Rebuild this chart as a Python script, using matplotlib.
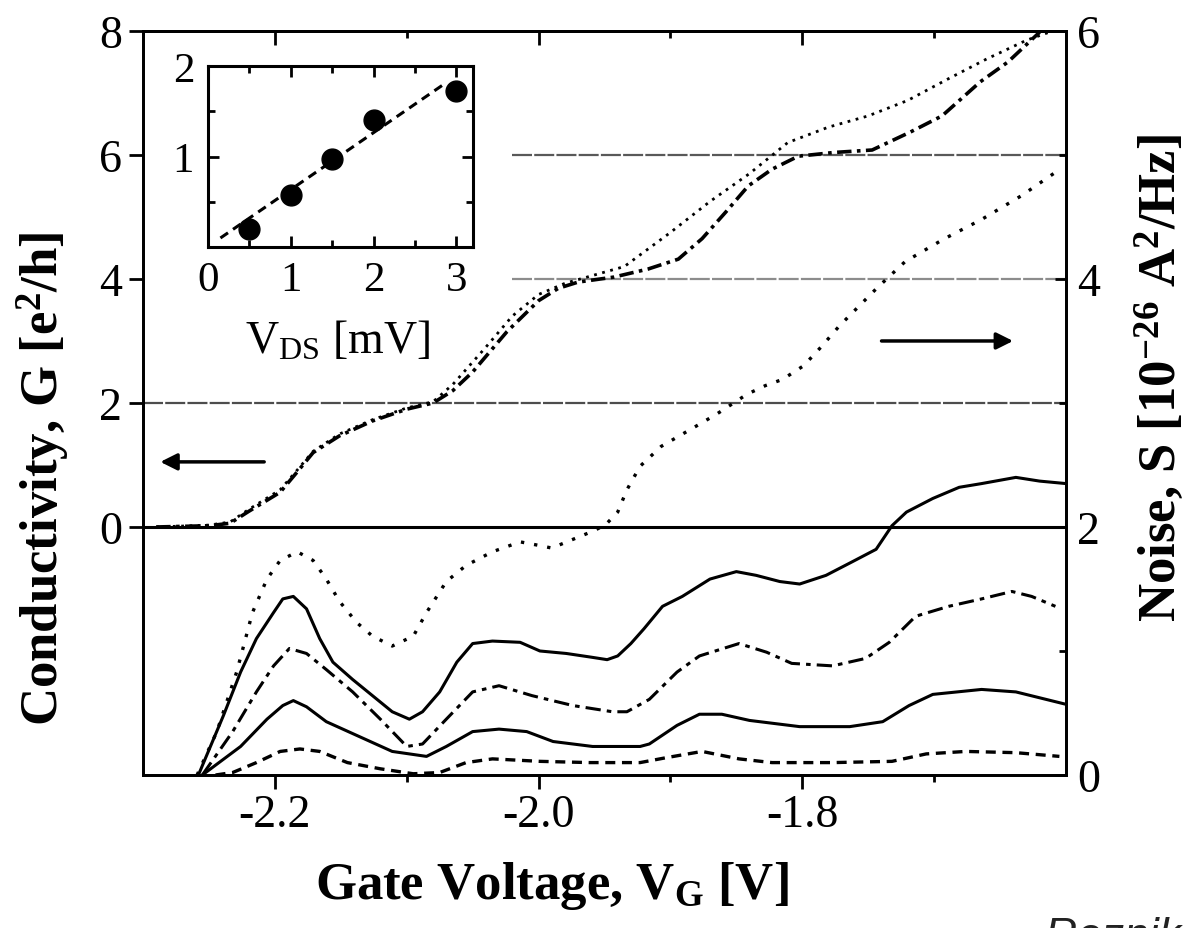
import matplotlib
matplotlib.use("Agg")
import matplotlib.pyplot as plt

plt.rcParams['font.family'] = 'Liberation Serif'
plt.rcParams['mathtext.fontset'] = 'custom'
plt.rcParams['mathtext.rm'] = 'Liberation Serif'
plt.rcParams['mathtext.default'] = 'regular'
plt.rcParams['axes.unicode_minus'] = False

# conductance traces (left axis, e^2/h)
g_dashdot_x = [-2.29, -2.25, -2.234, -2.22, -2.196, -2.183, -2.171, -2.151, -2.126, -2.10,
               -2.08, -2.065, -2.05, -2.024, -2.0, -1.985, -1.97, -1.943, -1.917, -1.894,
               -1.876, -1.858, -1.841, -1.823, -1.803, -1.776, -1.747, -1.718, -1.694,
               -1.665, -1.644, -1.62]
g_dashdot_y = [0.0, 0.02, 0.06, 0.25, 0.56, 0.89, 1.2, 1.47, 1.71, 1.9,
               2.0, 2.2, 2.5, 3.15, 3.65, 3.85, 3.95, 4.03, 4.16, 4.32,
               4.65, 5.08, 5.5, 5.77, 5.98, 6.04, 6.08, 6.37, 6.63,
               7.18, 7.5, 7.98]
g_dotted_x = [-2.29, -2.25, -2.234, -2.22, -2.196, -2.183, -2.171, -2.151, -2.126, -2.10,
              -2.08, -2.065, -2.04, -2.02, -2.0, -1.98, -1.96, -1.935, -1.90, -1.87,
              -1.84, -1.811, -1.78, -1.75, -1.72, -1.69, -1.66, -1.63, -1.61]
g_dotted_y = [0.0, 0.03, 0.08, 0.28, 0.6, 0.92, 1.22, 1.5, 1.73, 1.92,
              2.02, 2.3, 2.9, 3.4, 3.75, 3.93, 4.05, 4.2, 4.75, 5.25,
              5.7, 6.2, 6.45, 6.63, 6.88, 7.22, 7.55, 7.85, 8.0]

# noise traces (right axis, 1e-26 A^2/Hz)
s_dotted_x = [-2.259, -2.244, -2.229, -2.217, -2.206, -2.196, -2.183, -2.171, -2.161, -2.151,
              -2.138, -2.126, -2.111, -2.095, -2.085, -2.070, -2.055, -2.035, -2.014, -1.999,
              -1.99, -1.974, -1.958, -1.949, -1.94, -1.933, -1.923, -1.907, -1.894, -1.881,
              -1.865, -1.842, -1.828, -1.815, -1.799, -1.785, -1.772, -1.758, -1.744, -1.722,
              -1.693, -1.664, -1.634, -1.608]
s_dotted_y = [0.0, 0.35, 0.83, 1.31, 1.58, 1.73, 1.80, 1.73, 1.58, 1.40,
              1.23, 1.12, 1.04, 1.12, 1.31, 1.56, 1.69, 1.80, 1.88, 1.85,
              1.83, 1.90, 1.97, 2.02, 2.12, 2.30, 2.49, 2.65, 2.73, 2.81,
              2.91, 3.07, 3.14, 3.19, 3.30, 3.46, 3.62, 3.77, 3.92, 4.14,
              4.32, 4.48, 4.67, 4.86]
s_solid1_x = [-2.258, -2.239, -2.226, -2.214, -2.201, -2.194, -2.186, -2.176, -2.166, -2.156,
              -2.141, -2.126, -2.111, -2.098, -2.088, -2.075, -2.062, -2.050, -2.035, -2.014,
              -1.999, -1.979, -1.960, -1.948, -1.940, -1.930, -1.920, -1.906, -1.891, -1.870,
              -1.850, -1.835, -1.817, -1.802, -1.782, -1.762, -1.744, -1.732, -1.721, -1.701,
              -1.681, -1.664, -1.638, -1.620, -1.60]
s_solid1_y = [0.0, 0.48, 0.83, 1.10, 1.31, 1.42, 1.44, 1.34, 1.10, 0.91,
              0.77, 0.64, 0.51, 0.45, 0.51, 0.67, 0.91, 1.06, 1.08, 1.07,
              1.00, 0.98, 0.95, 0.93, 0.96, 1.06, 1.18, 1.36, 1.44, 1.58,
              1.64, 1.61, 1.56, 1.54, 1.61, 1.72, 1.82, 2.01, 2.12, 2.23,
              2.32, 2.35, 2.40, 2.37, 2.35]
s_dashdot_x = [-2.255, -2.232, -2.214, -2.201, -2.189, -2.176, -2.161, -2.141, -2.120, -2.100,
               -2.088, -2.070, -2.050, -2.030, -2.005, -1.974, -1.944, -1.933, -1.916, -1.895,
               -1.878, -1.848, -1.827, -1.808, -1.777, -1.752, -1.734, -1.714, -1.689, -1.664,
               -1.641, -1.626, -1.608]
s_dashdot_y = [0.0, 0.35, 0.67, 0.88, 1.02, 0.98, 0.85, 0.67, 0.45, 0.23,
               0.25, 0.45, 0.67, 0.72, 0.64, 0.56, 0.51, 0.51, 0.61, 0.83,
               0.96, 1.06, 0.99, 0.90, 0.88, 0.94, 1.07, 1.28, 1.36, 1.42,
               1.48, 1.44, 1.36]
s_solid2_x = [-2.255, -2.226, -2.206, -2.194, -2.186, -2.176, -2.161, -2.136, -2.111, -2.085,
              -2.070, -2.050, -2.030, -2.009, -1.989, -1.959, -1.923, -1.916, -1.895, -1.878,
              -1.861, -1.840, -1.802, -1.764, -1.739, -1.719, -1.701, -1.664, -1.638, -1.60]
s_solid2_y = [0.0, 0.23, 0.45, 0.56, 0.60, 0.55, 0.43, 0.31, 0.19, 0.15,
              0.23, 0.35, 0.37, 0.35, 0.27, 0.23, 0.23, 0.25, 0.40, 0.49,
              0.49, 0.44, 0.39, 0.39, 0.43, 0.56, 0.65, 0.69, 0.67, 0.57]
s_dashed_x = [-2.245, -2.232, -2.214, -2.196, -2.181, -2.166, -2.145, -2.120, -2.095, -2.075,
              -2.055, -2.035, -1.999, -1.961, -1.923, -1.903, -1.876, -1.848, -1.823, -1.777,
              -1.732, -1.706, -1.676, -1.638, -1.605]
s_dashed_y = [0.0, 0.02, 0.10, 0.19, 0.21, 0.19, 0.10, 0.05, 0.01, 0.02,
              0.10, 0.13, 0.11, 0.10, 0.10, 0.14, 0.19, 0.13, 0.10, 0.10,
              0.11, 0.17, 0.19, 0.18, 0.15]

# inset
vds = [0.5, 1.0, 1.5, 2.0, 3.0]
inset_vals = [0.20, 0.57, 0.97, 1.40, 1.73]
fit_x = [0.15, 2.85]
fit_y = [0.10, 1.80]

fig = plt.figure(figsize=(11.86, 9.29), dpi=100)
ax = fig.add_axes([0.1206, 0.1647, 0.7782, 0.8009])
ax2 = ax.twinx()

ax.axhline(0, color='black', lw=2.2)
ax.axhline(2, color='0.3', lw=1.6, ls=(0, (9, 1)))
ax.hlines(4, -2.02, -1.6, colors='0.55', lw=1.6, ls=(0, (9, 1)))
ax.hlines(6, -2.02, -1.6, colors='0.35', lw=1.6, ls=(0, (9, 1)))

ax.plot(g_dotted_x, g_dotted_y, color='black', lw=2.0, ls=(0, (1, 2)))
ax.plot(g_dashdot_x, g_dashdot_y, color='black', lw=2.6, ls=(0, (4, 1.5, 1, 1.5)))

ax2.plot(s_dotted_x, s_dotted_y, color='black', lw=2.4, ls=(0, (1, 3)))
ax2.plot(s_solid1_x, s_solid1_y, color='black', lw=2.2)
ax2.plot(s_dashdot_x, s_dashdot_y, color='black', lw=2.2, ls=(0, (5, 2, 1.5, 2)))
ax2.plot(s_solid2_x, s_solid2_y, color='black', lw=2.2)
ax2.plot(s_dashed_x, s_dashed_y, color='black', lw=2.4, ls=(0, (3, 2)))

ax.annotate('', xy=(-2.289, 1.05), xytext=(-2.206, 1.05),
            arrowprops=dict(arrowstyle='-|>', color='black', lw=2.5, mutation_scale=25))
ax.annotate('', xy=(-1.638, 3.0), xytext=(-1.742, 3.0),
            arrowprops=dict(arrowstyle='-|>', color='black', lw=2.5, mutation_scale=25))

ax.set_xlim(-2.3, -1.6)
ax.set_ylim(-4, 8)
ax2.set_ylim(0, 6)

ax.set_xticks([-2.2, -2.0, -1.8])
ax.set_xticklabels(['-2.2', '-2.0', '-1.8'])
ax.set_xticks([-2.1, -1.9, -1.7], minor=True)
ax.set_yticks([0, 2, 4, 6, 8])
ax.tick_params(axis='x', which='major', direction='out', length=10, width=2, labelsize=33, pad=3)
ax.tick_params(axis='x', which='minor', direction='out', length=5, width=2)
ax.tick_params(axis='y', direction='out', length=10, width=2, labelsize=33, pad=5)
ax2.set_yticks([0, 2, 4, 6])
ax2.set_yticks([1, 3, 5], minor=True)
ax2.tick_params(axis='y', which='major', direction='in', length=8, width=2, labelsize=33, pad=8)
ax2.tick_params(axis='y', which='minor', direction='in', length=5, width=2)

top = ax.secondary_xaxis('top')
top.set_xticks([-2.2, -2.0, -1.8])
top.set_xticks([-2.1, -1.9, -1.7], minor=True)
top.set_xticklabels([])
top.tick_params(axis='x', which='major', direction='in', length=10, width=2)
top.tick_params(axis='x', which='minor', direction='in', length=5, width=2)
top.spines['top'].set_linewidth(2)

for a in (ax, ax2):
    for s in a.spines.values():
        s.set_linewidth(2)

ax.set_xlabel('Gate Voltage, V$_G$ [V]', fontsize=38, fontweight='bold', va='center')
ax.xaxis.set_label_coords(0.443, -0.148)
ax.set_ylabel('Conductivity, G [e$^2$/h]', fontsize=38, fontweight='bold', va='center')
ax.yaxis.set_label_coords(-0.108, 0.40)
ax2.set_ylabel('Noise, S [10$^{-26}$ A$^2$/Hz]', fontsize=38, fontweight='bold', va='center')
ax2.yaxis.set_label_coords(1.102, 0.535)

axin = fig.add_axes([0.1754, 0.733, 0.2234, 0.1948])
axin.plot(fit_x, fit_y, color='black', lw=2.2, ls=(0, (3, 2)))
axin.plot(vds, inset_vals, 'o', color='black', ms=15)
axin.set_xlim(0, 3.2)
axin.set_ylim(0, 2)
axin.set_xticks([0, 1, 2, 3])
axin.set_xticks([0.5, 1.5, 2.5], minor=True)
axin.set_yticks([1, 2])
axin.set_yticks([0.5, 1.5], minor=True)
axin.tick_params(which='major', direction='in', top=True, right=True, length=8, width=2,
                 labelsize=31, pad=10)
axin.tick_params(which='minor', direction='in', top=True, right=True, length=5, width=2)
for s in axin.spines.values():
    s.set_linewidth(2.2)
axin.set_xlabel('V$_{DS}$ [mV]', fontsize=33, va='center')
axin.xaxis.set_label_coords(0.487, -0.52)

fig.text(0.881, 0.013, 'Reznikov et al.', fontsize=32, style='italic',
         family='Liberation Sans', color='#222222', va='top', ha='left')

fig.savefig('out.png', dpi=100)
